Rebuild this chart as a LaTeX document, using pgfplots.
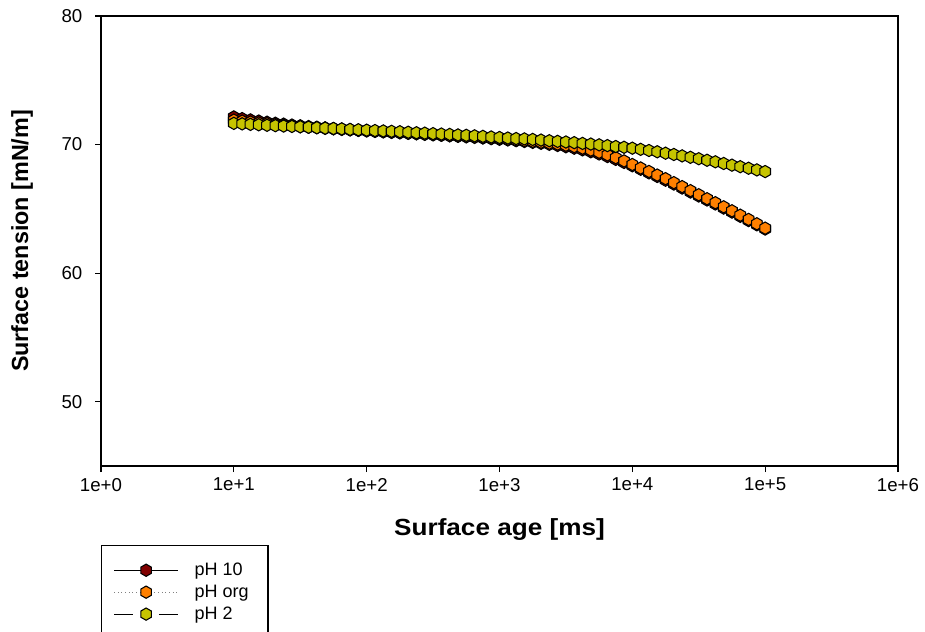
\documentclass[border=0pt]{standalone}
\usepackage{pgfplots}
\pgfplotsset{compat=1.18}
\usepackage{pgfplotstable}
\usepackage{fontspec}
\setmainfont{Liberation Sans}
\newfontfamily\widesans[FakeStretch=1.12]{Liberation Sans}

\definecolor{phten}{RGB}{128,0,0}
\definecolor{phorg}{RGB}{255,128,0}
\definecolor{phtwo}{RGB}{198,196,0}

% hexagon marker with a vertex on top
\pgfdeclareplotmark{hexa}{%
  \pgfpathmoveto{\pgfpointpolar{90}{\pgfplotmarksize}}%
  \pgfpathlineto{\pgfpointpolar{150}{\pgfplotmarksize}}%
  \pgfpathlineto{\pgfpointpolar{210}{\pgfplotmarksize}}%
  \pgfpathlineto{\pgfpointpolar{270}{\pgfplotmarksize}}%
  \pgfpathlineto{\pgfpointpolar{330}{\pgfplotmarksize}}%
  \pgfpathlineto{\pgfpointpolar{30}{\pgfplotmarksize}}%
  \pgfpathclose
  \pgfusepathqfillstroke}

% surface age [ms], surface tension [mN/m]
\pgfplotstableread{
t       ph10   phorg  ph2
10      72.15  71.90  71.65
11.55   72.02  71.82  71.61
13.34   71.92  71.75  71.57
15.40   71.83  71.68  71.54
17.78   71.74  71.62  71.50
20.54   71.66  71.56  71.47
23.71   71.59  71.50  71.44
27.38   71.52  71.45  71.41
31.62   71.46  71.40  71.38
36.52   71.40  71.35  71.35
42.17   71.35  71.31  71.31
48.70   71.30  71.26  71.28
56.23   71.25  71.22  71.25
64.94   71.20  71.18  71.22
74.99   71.16  71.14  71.18
86.60   71.12  71.10  71.15
100     71.08  71.06  71.12
115.5   71.04  71.02  71.09
133.4   71.00  70.99  71.06
154.0   70.96  70.95  71.03
177.8   70.92  70.92  71.00
205.4   70.88  70.88  70.96
237.1   70.84  70.85  70.92
273.8   70.80  70.81  70.89
316.2   70.76  70.78  70.85
365.2   70.72  70.74  70.82
421.7   70.68  70.70  70.79
487.0   70.64  70.67  70.75
562.3   70.60  70.63  70.72
649.4   70.56  70.59  70.68
749.9   70.51  70.55  70.64
866.0   70.46  70.50  70.59
1000    70.41  70.46  70.55
1155    70.36  70.41  70.51
1334    70.30  70.36  70.47
1540    70.24  70.31  70.44
1778    70.17  70.25  70.40
2054    70.10  70.18  70.35
2371    70.02  70.11  70.30
2738    69.93  70.04  70.25
3162    69.83  69.95  70.20
3652    69.72  69.84  70.15
4217    69.59  69.72  70.09
4870    69.44  69.57  70.04
5623    69.27  69.40  69.98
6494    69.07  69.20  69.92
7499    68.85  68.98  69.85
8660    68.61  68.73  69.79
10000   68.35  68.45  69.72
11550   68.08  68.18  69.63
13340   67.80  67.91  69.54
15400   67.52  67.63  69.44
17780   67.23  67.35  69.33
20540   66.93  67.04  69.23
23710   66.62  66.73  69.12
27380   66.31  66.42  69.01
31620   66.00  66.10  68.90
36520   65.69  65.79  68.78
42170   65.38  65.48  68.66
48700   65.06  65.16  68.53
56230   64.75  64.85  68.40
64940   64.42  64.51  68.28
74990   64.09  64.18  68.16
86600   63.76  63.84  68.03
100000  63.43  63.50  67.90
}\surfdata

\newcommand{\legtext}[1]{\makebox[54pt][l]{\hspace{10pt}#1}}

\begin{document}
\begin{tikzpicture}
\begin{axis}[
  at={(0,0)}, anchor=south west,
  scale only axis,
  width=597.75pt, height=337.5pt,
  xmode=log,
  xmin=1, xmax=1e6,
  ymin=45, ymax=80,
  xtick={1,10,100,1000,10000,100000,1000000},
  xticklabels={1e+0,1e+1,1e+2,1e+3,1e+4,1e+5,1e+6},
  ytick={50,60,70,80},
  minor xtick={}, minor ytick={},
  xminorticks=false,
  tick align=outside,
  xtick pos=bottom, ytick pos=left,
  major tick length=4.5pt,
  axis line style={line width=1.1pt},
  every tick/.style={line width=0.9pt, black},
  /pgf/number format/assume math mode=true,
  tick label style={font=\fontsize{14}{16}\selectfont},
  yticklabel style={xshift=-6pt},
  xticklabel style={yshift=-1pt},
  xlabel={Surface age [ms]},
  ylabel={Surface tension [mN/m]},
  every axis x label/.style={at={(axis description cs:0.5,-0.142)}, anchor=center,
    font=\widesans\fontsize{17.5}{21}\selectfont\bfseries},
  every axis y label/.style={at={(axis description cs:-0.099,0.5)}, anchor=center, rotate=90,
    font=\fontsize{17.5}{21}\selectfont\bfseries},
  legend style={
    at={(axis description cs:0,-0.1756)}, anchor=north west,
    draw=black, line width=0.9pt,
    font=\fontsize{13.5}{15}\selectfont,
    inner xsep=9pt, inner ysep=11pt,
    row sep=1.6pt,
    legend cell align=left,
  },
  legend image code/.code={%
    \draw[mark repeat=2, mark phase=2] plot coordinates {(0pt,0pt) (24pt,0pt) (48pt,0pt)};},
  mark size=4.6pt,
]
\addplot[black, line width=0.75pt, mark=hexa,
  mark options={solid, fill=phten, draw=black, line width=0.8pt}]
  table[x=t, y=ph10] {\surfdata};
\addlegendentry{\legtext{pH 10}}
\addplot[gray, dotted, line width=0.75pt, mark=hexa,
  mark options={solid, fill=phorg, draw=black, line width=0.8pt}]
  table[x=t, y=phorg] {\surfdata};
\addlegendentry{\legtext{pH org}}
\addplot[black, dash pattern=on 14pt off 20pt, line width=0.75pt, mark=hexa,
  mark options={solid, fill=phtwo, draw=black, line width=0.8pt}]
  table[x=t, y=ph2] {\surfdata};
\addlegendentry{\legtext{pH 2}\rule[-14pt]{0pt}{14pt}}
\end{axis}
\pgfresetboundingbox
\useasboundingbox (-75.75pt,-124.5pt) rectangle (618pt,349.5pt);
\end{tikzpicture}
\end{document}
